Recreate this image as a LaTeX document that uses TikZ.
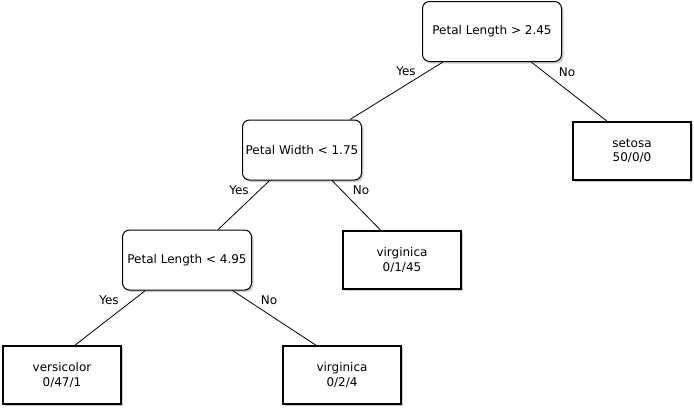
\documentclass[tikz,border=0pt]{standalone}
\usepackage{fontspec}
\setmainfont{DejaVu Sans}
\usetikzlibrary{calc, shadows}
\tikzset{
  every picture/.style={x=1pt, y=-1pt, font=\fontsize{12}{14.5}\selectfont},
  split/.style={draw, fill=white, rounded corners=7pt, line width=1pt, minimum width=#1, minimum height=60pt, inner sep=0pt, align=center,
    drop shadow={shadow xshift=2pt, shadow yshift=-2pt, fill=black, opacity=0.2}},
  split/.default=120pt,
  leaf/.style={draw, fill=white, line width=2pt, minimum width=118pt, minimum height=58pt, inner sep=0pt, align=center,
    drop shadow={shadow xshift=2pt, shadow yshift=-2pt, fill=black, opacity=0.2}},
  edge/.style={draw, line width=0.8pt},
  answer/.style={inner sep=1pt},
}

\begin{document}
\begin{tikzpicture}
  \useasboundingbox (0,0) rectangle (694,410);

  % ---- decisions
  \node[split=139pt] (root) at (492,31.5)  {Petal Length > 2.45};
  \node[split=119pt] (pw)   at (302,150)   {Petal Width < 1.75};
  \node[split=129pt] (pl)   at (187,260)   {Petal Length < 4.95};

  % ---- leaves
  \node[leaf] (setosa) at (632,151) {setosa\\50/0/0};
  \node[leaf] (virA)   at (402,260) {virginica\\0/1/45};
  \node[leaf] (versi)  at (62,375)  {versicolor\\0/47/1};
  \node[leaf] (virB)   at (342,375) {virginica\\0/2/4};

  % ---- branches
  \draw[edge] ($(root.south west)!0.15!(root.south east)$) -- ($(pw.north west)!0.9!(pw.north east)$);
  \draw[edge] ($(root.south west)!0.78!(root.south east)$) -- ($(setosa.north west)!0.29!(setosa.north east)$);
  \draw[edge] ($(pw.south west)!0.23!(pw.south east)$) -- ($(pl.north west)!0.74!(pl.north east)$);
  \draw[edge] ($(pw.south west)!0.75!(pw.south east)$) -- ($(virA.north west)!0.32!(virA.north east)$);
  \draw[edge] ($(pl.south west)!0.18!(pl.south east)$) -- ($(versi.north west)!0.61!(versi.north east)$);
  \draw[edge] ($(pl.south west)!0.85!(pl.south east)$) -- ($(virB.north west)!0.28!(virB.north east)$);

  % ---- answers
  \node[answer] (rootyes) at (406,71)  {Yes};
  \node[answer] (rootno)  at (567,72)  {No};
  \node[answer] (pwyes)   at (239,190) {Yes};
  \node[answer] (pwno)    at (361,190) {No};
  \node[answer] (plyes)   at (109,300) {Yes};
  \node[answer] (plno)    at (269,300) {No};
\end{tikzpicture}
\end{document}
